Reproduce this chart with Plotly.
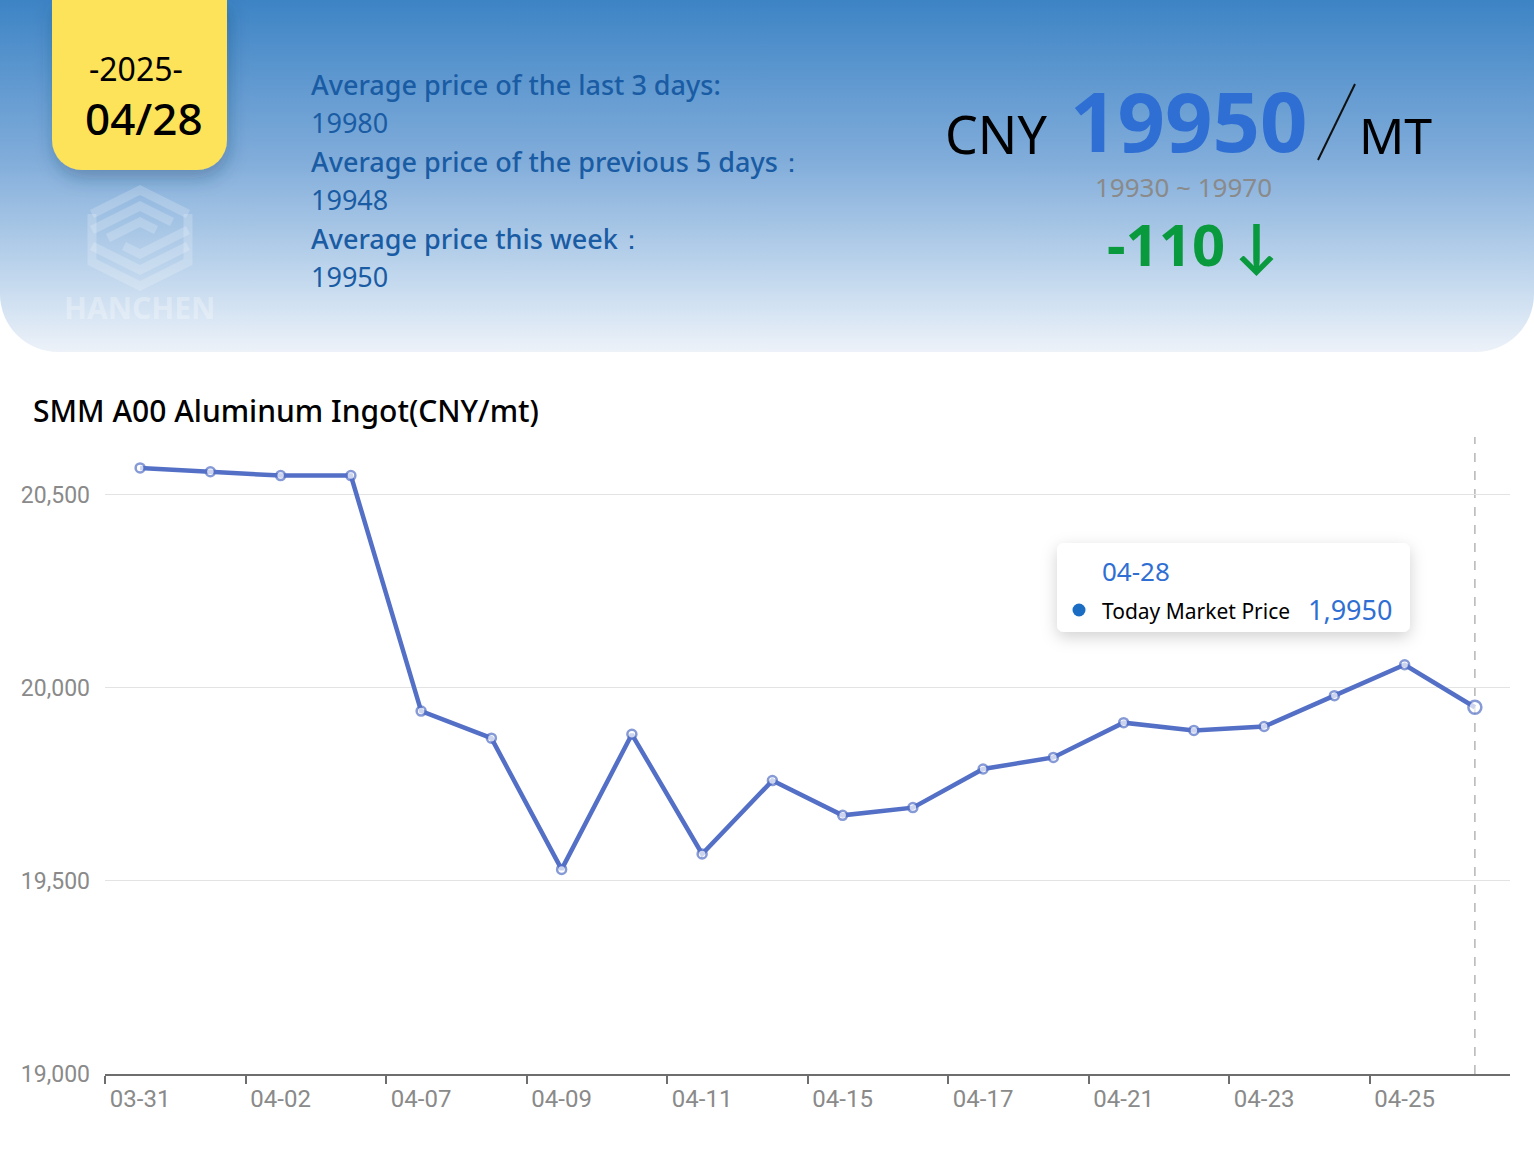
import base64
import plotly.graph_objects as go

# ---------------- data ----------------
dates = ["03-31", "04-01", "04-02", "04-03", "04-07", "04-08", "04-09", "04-10",
         "04-11", "04-14", "04-15", "04-16", "04-17", "04-18", "04-21", "04-22",
         "04-23", "04-24", "04-25", "04-28"]
prices = [20570, 20560, 20550, 20550, 19940, 19870, 19530, 19880, 19570, 19760,
          19670, 19690, 19790, 19820, 19910, 19890, 19900, 19980, 20060, 19950]
y_ticks = [19000, 19500, 20000, 20500]
header_lines = ["Average price of the last 3 days:", "19980",
                "Average price of the previous 5 days\uff1a", "19948",
                "Average price this week\uff1a", "19950"]
today_price = "19950"
price_range = "19930 ~ 19970"
change_text = "-110\u2009\u2193"
tooltip_value = "1,9950"

# ---------------- geometry helpers ----------------
W, H = 1534, 1151
L, R, T, B = 105, 1510, 437, 1074


def px(x):
    return (x - L) / (R - L)


def py(y):
    return (B - y) / (B - T)


LINE = "#5470c6"
BLUE = "#2f6fd3"
FONT = "Noto Sans, Lato, sans-serif"
AXISFONT = "Roboto, Liberation Sans Narrow, sans-serif"

# ---------------- background svg (gradient header, badge, tooltip box) ----------------
svg = f'''<svg xmlns="http://www.w3.org/2000/svg" width="{W}" height="{H}" viewBox="0 0 {W} {H}">
<defs>
<linearGradient id="g" x1="0" y1="0" x2="0" y2="1">
<stop offset="0" stop-color="#3d84c5"/>
<stop offset="0.45" stop-color="#80acda"/>
<stop offset="0.8" stop-color="#c4d9ee"/>
<stop offset="1" stop-color="#edf2f9"/>
</linearGradient>
<filter id="s" x="-40%" y="-40%" width="180%" height="180%">
<feDropShadow dx="2" dy="8" stdDeviation="9" flood-color="#1d3f66" flood-opacity="0.35"/>
</filter>
<filter id="t" x="-20%" y="-40%" width="140%" height="190%">
<feDropShadow dx="0" dy="5" stdDeviation="8" flood-color="#000" flood-opacity="0.18"/>
</filter>
</defs>
<path d="M0,0 H{W} V294 A58,58 0 0 1 {W-58},352 H58 A58,58 0 0 1 0,294 Z" fill="url(#g)"/>
<path d="M52,0 H227 V140 A30,30 0 0 1 197,170 H82 A30,30 0 0 1 52,140 Z" fill="#fde35a" filter="url(#s)"/>
<g fill="none" stroke="#ffffff" stroke-opacity="0.2" stroke-width="9" stroke-linejoin="miter">
<path d="M92,214 L140,190 L188,214"/>
<path d="M92,230 L140,206 L172,222"/>
<path d="M108,238 L140,222 L156,230"/>
<path d="M124,246 L140,254 L188,230"/>
<path d="M92,246 L140,270 L188,246"/>
<path d="M92,214 V262 L140,286 L188,262 V214"/>
</g>
<rect x="1057" y="543" width="353" height="89" rx="7" ry="7" fill="#ffffff" filter="url(#t)"/>
<circle cx="1079" cy="610" r="6.5" fill="#1a6dc2"/>
</svg>'''
svg_uri = "data:image/svg+xml;base64," + base64.b64encode(svg.encode()).decode()

# ---------------- figure ----------------
x_idx = list(range(len(dates)))
sizes = [9] * (len(prices) - 1) + [13]

fig = go.Figure()
fig.add_trace(go.Scatter(
    x=x_idx, y=prices, mode="lines+markers",
    line=dict(color=LINE, width=4.5),
    marker=dict(symbol="circle", size=sizes, color="white",
                line=dict(color=LINE, width=2.5)),
    hoverinfo="skip", showlegend=False,
))

annotations = []


def add_text(text, x, y, size, color="#000", xanchor="left", family=FONT, weight="normal"):
    annotations.append(dict(
        text=text, x=px(x), y=py(y), xref="paper", yref="paper",
        xanchor=xanchor, yanchor="middle", showarrow=False,
        font=dict(family=family, size=size, color=color, weight=weight),
    ))


# badge
add_text("-2025-", 136, 68, 32, xanchor="center")
add_text("04/28", 144, 118, 44, xanchor="center", weight=500)
# watermark text
add_text("HANCHEN", 140, 307, 30, color="rgba(255,255,255,0.3)", xanchor="center", weight="bold")
# left info block
line_y = [84, 122, 161, 200, 238, 277]
for i, (txt, yy) in enumerate(zip(header_lines, line_y)):
    add_text(txt, 309, yy, 27, color="#1a5ca4", weight=500 if i % 2 == 0 else "normal")
# big price
add_text("CNY", 943, 133, 52)
add_text(today_price, 1188, 119, 83, color=BLUE, xanchor="center", weight="bold")
add_text("MT", 1357, 135, 50)
add_text(price_range, 1183, 187, 26, color="#8a8a8a", xanchor="center")
add_text(change_text, 1192, 244, 58, color="#0a9a3e", xanchor="center", weight="bold")
# chart title
add_text("SMM A00 Aluminum Ingot(CNY/mt)", 31, 410, 30, weight=500)
# tooltip
add_text(dates[-1], 1100, 571, 26, color=BLUE)
add_text("Today Market Price", 1100, 611, 21)
add_text(tooltip_value, 1394, 609, 27, color=BLUE, xanchor="right")

shapes = [
    # axis pointer at the last date
    dict(type="line", xref="x", yref="paper", x0=x_idx[-1], x1=x_idx[-1], y0=0, y1=1,
         line=dict(color="#b5b5b5", width=1.5, dash="dash"), layer="below"),
    # slash between price and unit
    dict(type="line", xref="paper", yref="paper", x0=px(1318), x1=px(1355),
         y0=py(160), y1=py(84), line=dict(color="#111", width=2)),
]

fig.update_layout(
    width=W, height=H,
    margin=dict(l=L, r=W - R, t=T, b=H - B, pad=0),
    paper_bgcolor="white", plot_bgcolor="rgba(0,0,0,0)",
    annotations=annotations, shapes=shapes,
    images=[dict(source=svg_uri, xref="paper", yref="paper",
                 x=px(0), y=py(0), sizex=W / (R - L), sizey=H / (B - T),
                 xanchor="left", yanchor="top", sizing="stretch", layer="below")],
    hovermode=False,
    xaxis=dict(
        range=[-0.5, len(dates) - 0.5], tickmode="array",
        tickvals=x_idx[::2], ticktext=dates[::2], ticks="",
        showgrid=False, zeroline=False,
        showline=True, linecolor="#6e6e6e", linewidth=2,
        tickfont=dict(family=AXISFONT, size=24, color="#8a8a8a"),
        ticklabelstandoff=2,
        minor=dict(tickmode="array", tickvals=[i - 0.5 for i in x_idx[::2]],
                   ticks="outside", ticklen=8, tickwidth=2, tickcolor="#6e6e6e",
                   showgrid=False),
    ),
    yaxis=dict(
        range=[19000, 20650], tickmode="array", tickvals=y_ticks,
        tickformat=",d", showgrid=True, gridcolor="#e3e3e3", gridwidth=1,
        zeroline=False, showline=False, ticks="",
        tickfont=dict(family=AXISFONT, size=23, color="#8a8a8a"),
        ticklabelstandoff=14,
    ),
)

fig.write_html("out.html", config={"displayModeBar": False},
               post_script="document.body.style.margin='0';document.body.style.overflow='hidden';")
